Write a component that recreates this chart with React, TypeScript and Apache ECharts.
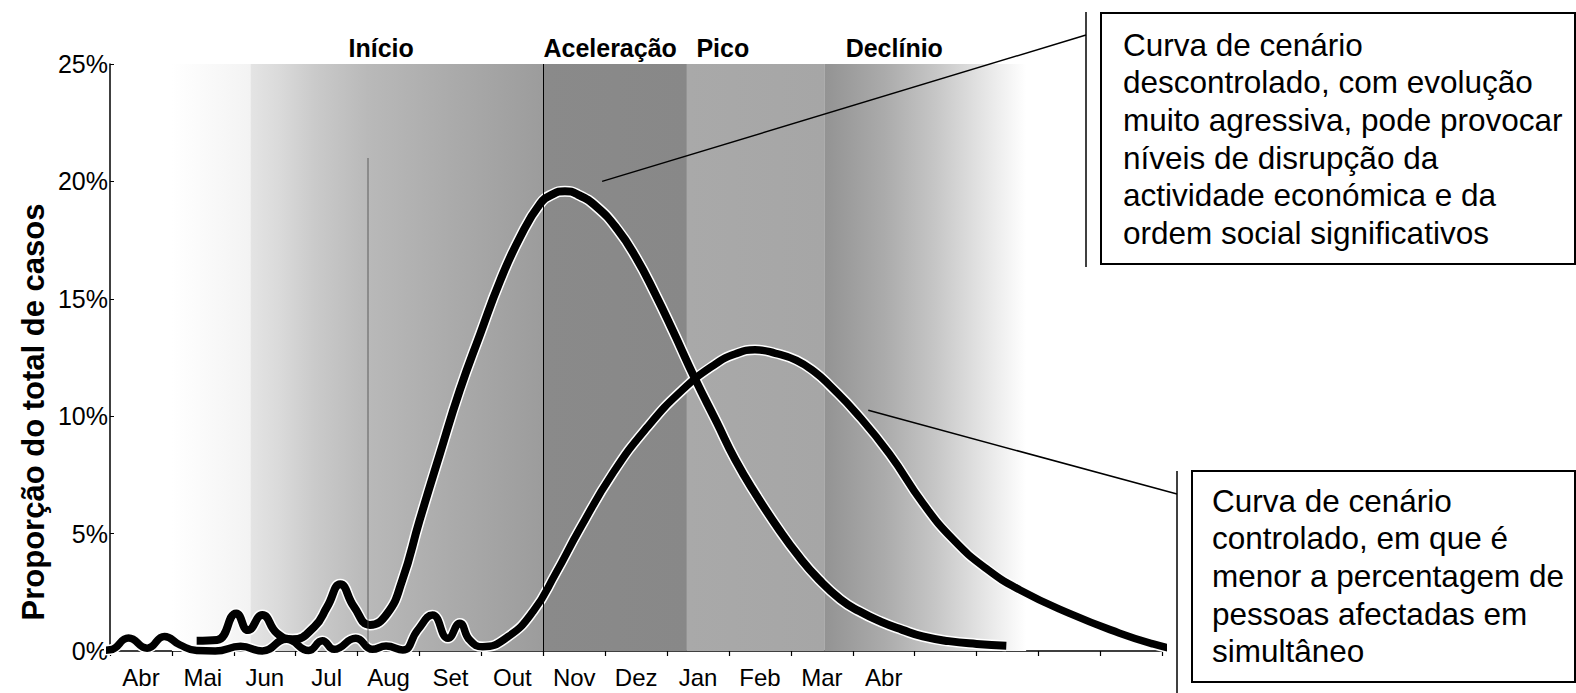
import React, { useEffect, useRef } from 'react';
import * as echarts from 'echarts';

const FONT = "'Liberation Sans', Arial, Helvetica, sans-serif";

// Category axis (month slots, boundaries are the ticks)
const monthLabels = ['Abr', 'Mai', 'Jun', 'Jul', 'Aug', 'Set', 'Out', 'Nov', 'Dez', 'Jan', 'Feb', 'Mar', 'Abr', '', '', '', ''];

// Y axis (percent)
const yMin = 0;
const yMax = 25;
const yStep = 5;

// Uncontrolled scenario curve (x in months from start of axis, y in %)
const uncontrolledX = [1.40, 1.73, 2.04, 2.23, 2.46, 2.70, 2.95, 3.30, 3.51, 3.72, 3.94, 4.20, 4.48, 4.72, 5.00, 5.33, 5.65, 5.98, 6.30, 6.62, 6.95, 7.15, 7.35, 7.55, 7.86, 8.20, 8.50, 8.80, 9.10, 9.45, 9.80, 10.10, 10.45, 10.80, 11.13, 11.45, 11.80, 12.10, 12.45, 12.80, 13.13, 13.55, 14.00, 14.48];
const uncontrolledY = [0.44, 0.47, 1.60, 0.89, 1.53, 0.75, 0.50, 1.03, 1.89, 2.84, 1.89, 1.11, 1.60, 3.00, 5.55, 8.40, 11.10, 13.50, 15.75, 17.60, 19.05, 19.45, 19.58, 19.45, 18.92, 17.95, 16.75, 15.25, 13.60, 11.60, 9.75, 8.15, 6.60, 5.20, 4.02, 3.05, 2.20, 1.70, 1.25, 0.90, 0.62, 0.42, 0.30, 0.22];

// Controlled scenario curve
const controlledX = [-0.40, 0.00, 0.30, 0.60, 0.88, 1.13, 1.40, 1.70, 2.11, 2.46, 2.85, 3.21, 3.43, 3.62, 3.97, 4.24, 4.46, 4.73, 4.97, 5.21, 5.46, 5.65, 5.81, 6.02, 6.43, 6.84, 7.20, 7.59, 8.13, 8.67, 9.24, 9.78, 10.10, 10.42, 10.75, 11.09, 11.40, 11.63, 12.05, 12.59, 13.13, 13.62, 14.16, 14.70, 15.50, 16.30, 16.85, 17.25, 17.45];
const controlledY = [0.00, 0.05, 0.55, 0.12, 0.62, 0.26, 0.02, 0.00, 0.20, 0.00, 0.50, 0.02, 0.44, 0.07, 0.54, 0.07, 0.21, 0.04, 0.89, 1.53, 0.54, 1.18, 0.47, 0.18, 0.61, 1.70, 3.30, 5.20, 7.60, 9.50, 11.10, 12.22, 12.65, 12.83, 12.68, 12.38, 11.85, 11.30, 10.15, 8.40, 6.30, 4.75, 3.50, 2.60, 1.60, 0.77, 0.30, 0.05, 0.00];

// Phases (labels and their positions in months)
const phaseNames = ['Início', 'Aceleração', 'Pico', 'Declínio'];
const phaseLabelX = [4.38, 8.08, 9.90, 12.67];

// Background shading bands (months)
const bandStart = [1.0, 2.27, 7.0, 9.32, 11.54];
const bandEnd = [2.27, 7.0, 9.32, 11.54, 14.8];
const bandStops: [number, string][][] = [
  [[0, '#ffffff'], [1, '#f3f3f3']],
  [[0, '#e4e4e4'], [0.1, '#dadada'], [0.22, '#cacaca'], [0.4, '#b9b9b9'], [0.7, '#aaaaaa'], [1, '#9c9c9c']],
  [[0, '#8a8a8a'], [1, '#888888']],
  [[0, '#a9a9a9'], [1, '#a6a6a6']],
  [[0, '#939393'], [0.3, '#ababab'], [0.55, '#c6c6c6'], [0.8, '#e6e6e6'], [1, '#ffffff']],
];

const box1Text = 'Curva de cenário\ndescontrolado, com evolução\nmuito agressiva, pode provocar\nníveis de disrupção da\nactividade económica e da\nordem social significativos';
const box2Text = 'Curva de cenário\ncontrolado, em que é\nmenor a percentagem de\npessoas afectadas em\nsimultâneo';

const yTitle = 'Proporção do total de casos';

function pairs(xs: number[], ys: number[]) {
  return xs.map((x, i) => [x, ys[i]]);
}

export default function App() {
  const ref = useRef<HTMLDivElement>(null);

  useEffect(() => {
    if (!ref.current) return;
    const chart = echarts.init(ref.current, undefined, { renderer: 'svg' });

    const markAreaData = bandStart.map((s, i) => [
      {
        xAxis: s,
        yAxis: yMin,
        itemStyle: {
          color: {
            type: 'linear', x: 0, y: 0, x2: 1, y2: 0,
            colorStops: bandStops[i].map(([o, c]) => ({ offset: o, color: c })),
          },
        },
      },
      { xAxis: bandEnd[i], yAxis: yMax },
    ]);

    const option: any = {
      animation: false,
      backgroundColor: '#ffffff',
      grid: { left: 110, right: 413.7, top: 64, bottom: 42, containLabel: false },
      xAxis: [
        {
          type: 'category',
          data: monthLabels,
          boundaryGap: true,
          axisLine: { show: true, lineStyle: { color: '#000', width: 1.5 } },
          axisTick: { show: true, length: 5, interval: 0, lineStyle: { color: '#000', width: 1.2 } },
          axisLabel: { interval: 0, color: '#000', fontSize: 24, fontFamily: FONT, margin: 14 },
          splitLine: { show: false },
        },
        { type: 'value', min: 0, max: monthLabels.length, show: false },
      ],
      yAxis: {
        type: 'value',
        min: yMin,
        max: yMax,
        interval: yStep,
        axisLine: { show: true, lineStyle: { color: '#000', width: 1.5 } },
        axisTick: { show: true, inside: true, length: 4, lineStyle: { color: '#000', width: 1 } },
        axisLabel: { formatter: '{value}%', fontSize: 25, color: '#000', margin: 2, fontFamily: FONT },
        splitLine: { show: false },
      },
      series: [
        {
          type: 'line',
          xAxisIndex: 1,
          data: [[0, 0]],
          showSymbol: false,
          lineStyle: { width: 0, opacity: 0 },
          silent: true,
          z: 1,
          markArea: { silent: true, data: markAreaData },
          markLine: {
            silent: true,
            symbol: 'none',
            label: { show: false },
            data: [
              { xAxis: 7, lineStyle: { color: '#000', width: 1, type: 'solid' } },
              [
                { coord: [4.17, 21], lineStyle: { color: 'rgba(70,70,70,0.4)', width: 2, type: 'solid' } },
                { coord: [4.17, 0.3] },
              ],
            ],
          },
        },
        {
          name: 'halo-uncontrolled',
          type: 'line', xAxisIndex: 1, smooth: 0.5, showSymbol: false, clip: false, silent: true,
          data: pairs(uncontrolledX, uncontrolledY),
          lineStyle: { color: '#ffffff', width: 11 }, z: 3,
        },
        {
          name: 'halo-controlled',
          type: 'line', xAxisIndex: 1, smooth: 0.5, showSymbol: false, clip: false, silent: true,
          data: pairs(controlledX, controlledY),
          lineStyle: { color: '#ffffff', width: 10.5 }, z: 3,
        },
        {
          name: 'Cenário descontrolado',
          type: 'line', xAxisIndex: 1, smooth: 0.5, showSymbol: false, clip: false,
          data: pairs(uncontrolledX, uncontrolledY),
          lineStyle: { color: '#000000', width: 8, cap: 'butt' }, z: 4,
        },
        {
          name: 'Cenário controlado',
          type: 'line', xAxisIndex: 1, smooth: 0.5, showSymbol: false, clip: false,
          data: pairs(controlledX, controlledY),
          lineStyle: { color: '#000000', width: 7.5, cap: 'butt' }, z: 4,
        },
      ],
    };
    chart.setOption(option);

    const toPx = (u: number, v: number) => chart.convertToPixel({ seriesIndex: 3 }, [u, v]) as number[];
    const phaseY = 48;
    const phaseTexts = phaseNames.map((n, i) => {
      const p = toPx(phaseLabelX[i], yMax);
      return {
        type: 'text', x: p[0], y: phaseY, z: 10,
        style: {
          text: n, font: `bold 25px ${FONT}`, fill: '#000',
          textAlign: 'center', textVerticalAlign: 'middle', align: 'center', verticalAlign: 'middle',
        },
      };
    });
    const c1 = toPx(7.95, 20.0);
    const c2 = toPx(12.25, 10.25);

    const textStyle = (t: string) => ({
      text: t, font: `31.5px ${FONT}`, fill: '#000', lineHeight: 37.6,
      textAlign: 'left', textVerticalAlign: 'top', align: 'left', verticalAlign: 'top',
    });

    chart.setOption({
      graphic: [
        {
          type: 'text', x: 33, y: 412, rotation: Math.PI / 2, z: 10,
          style: {
            text: yTitle, font: `bold 31px ${FONT}`, fill: '#000',
            textAlign: 'center', textVerticalAlign: 'middle', align: 'center', verticalAlign: 'middle',
          },
        },
        ...phaseTexts,
        { type: 'line', z: 10, shape: { x1: c1[0], y1: c1[1], x2: 1086, y2: 35 }, style: { stroke: '#000', lineWidth: 1.5 } },
        { type: 'line', z: 10, shape: { x1: 1086, y1: 12, x2: 1086, y2: 267 }, style: { stroke: '#000', lineWidth: 1.5 } },
        { type: 'rect', z: 10, shape: { x: 1101, y: 13, width: 474, height: 251 }, style: { fill: '#fff', stroke: '#000', lineWidth: 2 } },
        { type: 'text', z: 11, x: 1123, y: 26, style: textStyle(box1Text) },
        { type: 'line', z: 10, shape: { x1: c2[0], y1: c2[1], x2: 1177, y2: 494 }, style: { stroke: '#000', lineWidth: 1.5 } },
        { type: 'line', z: 10, shape: { x1: 1177, y1: 471, x2: 1177, y2: 693 }, style: { stroke: '#000', lineWidth: 1.5 } },
        { type: 'rect', z: 10, shape: { x: 1192, y: 471, width: 383, height: 211 }, style: { fill: '#fff', stroke: '#000', lineWidth: 2 } },
        { type: 'text', z: 11, x: 1212, y: 482, style: textStyle(box2Text) },
      ],
    });

    return () => chart.dispose();
  }, []);

  return (
    <div
      ref={ref}
      style={{ position: 'fixed', left: 0, top: 0, width: 1576, height: 693, background: '#fff' }}
    />
  );
}
